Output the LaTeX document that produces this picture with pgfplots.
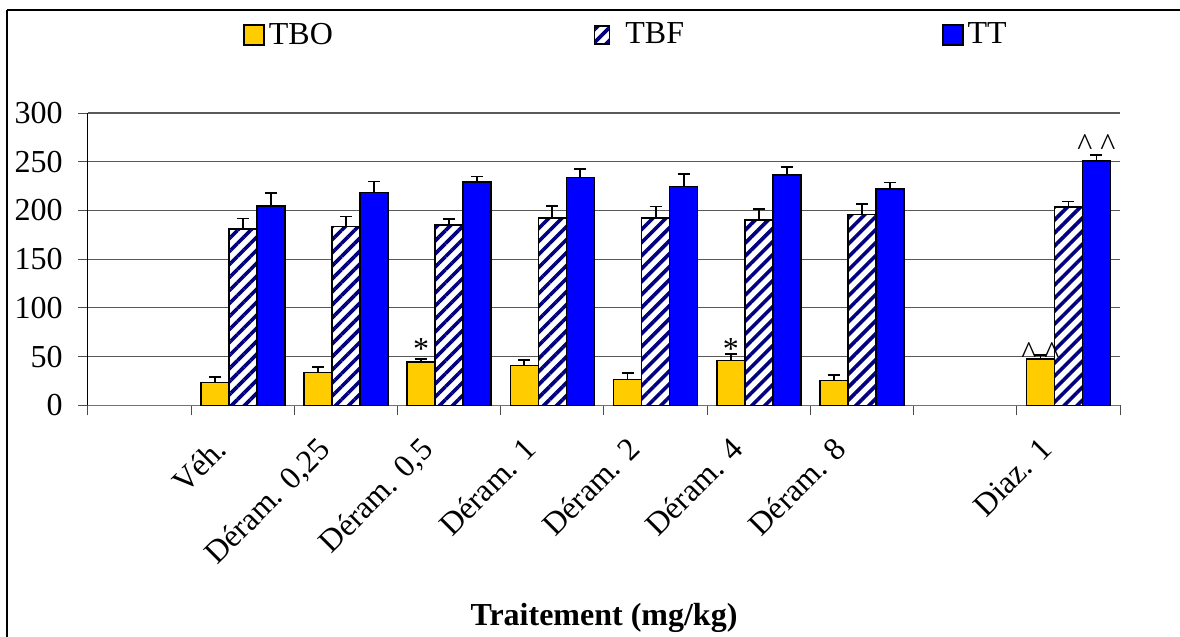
\documentclass[border=0pt]{standalone}
\usepackage{fontspec}
\setmainfont{Liberation Serif}
\usepackage{pgfplots}
\usepackage{pgfplotstable}
\pgfplotsset{compat=1.18}
\usetikzlibrary{patterns.meta}

\definecolor{tbocol}{HTML}{FFCC00}
\definecolor{stripecol}{HTML}{000080}
\definecolor{ttcol}{HTML}{0000FF}

\pgfplotsset{
  swatch/.style={legend image code/.code={\draw[##1, line width=0.75pt] (0pt,-5pt) rectangle (10pt,5pt);}},
  smallswatch/.style={legend image code/.code={\draw[##1, line width=0.75pt] (0pt,-4.5pt) rectangle (7.5pt,4.5pt);}},
}

% Means and upper error (SEM) per treatment; slots 1 and 9 are left empty
\pgfplotstableread{
x  tbo  tboerr tbf   tbferr tt    tterr
2  23.6 5.8    180.8 11.0   204.5 13.6
3  33.9 5.1    183.5 10.3   218.4 11.3
4  44.2 3.1    184.9 6.2    229.1 5.8
5  41.1 5.4    192.1 12.7   233.8 8.6
6  26.7 6.2    192.4 11.6   224.6 13.0
7  45.9 6.5    190.1 11.3   236.6 8.2
8  25.7 5.1    195.8 11.0   221.9 6.8
10 47.3 4.1    203.7 5.5    250.7 6.2
}\data

\newcommand{\chartfont}{\fontsize{16}{19}\selectfont}

\begin{document}
\begin{tikzpicture}
\useasboundingbox (-44pt,-115.85pt) rectangle (546pt,202.65pt);
% chart frame: left and top edges
\draw[line width=0.75pt] (-40.5pt,-115.85pt) -- (-40.5pt,197.65pt);
\draw[line width=0.75pt] (-40.5pt,197.65pt) -- (546pt,197.65pt);
\begin{axis}[
  at={(0,0)}, anchor=south west,
  scale only axis, width=516pt, height=146.15pt,
  ybar=0pt, bar width=14pt,
  xmin=0.5, xmax=10.5, ymin=0, ymax=300,
  axis x line=bottom, axis y line=left,
  axis line style={-},
  x axis line style={black!55, line width=0.6pt},
  y axis line style={black, line width=0.5pt},
  tick align=outside, major tick length=5pt,
  tick style={black!70, line width=0.5pt},
  xtick={0.5,1.5,...,10.5},
  xticklabels={,,,,,,,,,,},
  extra x ticks={2,3,4,5,6,7,8,10},
  extra x tick labels={Véh.,{Déram. 0,25},{Déram. 0,5},Déram. 1,Déram. 2,Déram. 4,Déram. 8,Diaz. 1},
  extra x tick style={major tick length=0pt, grid=none},
  xticklabel style={xshift=-15pt, yshift=-15pt, rotate=45, anchor=north east, inner sep=0pt},
  ytick={0,50,...,300},
  yticklabel style={inner sep=0pt, xshift=-7.5pt},
  ymajorgrids, grid style={black!65, line width=0.55pt},
  /pgf/number format/assume math mode=true,
  tick label style={font=\chartfont},
  xlabel={\textbf{Traitement (mg/kg)}},
  xlabel style={at={(axis description cs:0.5,0)}, anchor=base, yshift=-110pt, inner sep=0pt, font=\chartfont},
  legend columns=3,
  legend style={at={(0.1502,1.267)}, anchor=west, draw=none, fill=none,
    inner sep=0pt, font=\chartfont,
    /tikz/column 2/.style={column sep=128.5pt},
    /tikz/column 3/.style={column sep=5.5pt},
    /tikz/column 4/.style={column sep=127pt}},
  swatch,
  error bars/y dir=plus, error bars/y explicit,
  error bars/error bar style={black, line width=0.9pt},
  error bars/error mark options={rotate=90, mark size=3pt, black, line width=0.9pt},
]
\addplot[draw=black, line width=0.75pt, fill=tbocol]
  table[x=x, y=tbo, y error=tboerr] {\data};
\addplot[draw=black, line width=0.75pt, fill=white,
  postaction={pattern color=stripecol, pattern={Lines[angle=45, distance=4.6pt, line width=1.8pt]}},
  smallswatch]
  table[x=x, y=tbf, y error=tbferr] {\data};
\addplot[draw=black, line width=0.75pt, fill=ttcol]
  table[x=x, y=tt, y error=tterr] {\data};
\legend{TBO,TBF,TT}
% significance marks
\node[anchor=base, xshift=-14pt, font=\chartfont, inner sep=0pt] at (axis cs:4,47) {*};
\node[anchor=base, xshift=-14pt, font=\chartfont, inner sep=0pt] at (axis cs:7,47) {*};
\node[anchor=base, xshift=-14pt, font=\chartfont, inner sep=0pt] at (axis cs:10,43.4) {\textasciicircum\ \textasciicircum};
\node[anchor=base, xshift=14pt, font=\chartfont, inner sep=0pt] at (axis cs:10,256.1) {\textasciicircum\ \textasciicircum};
\end{axis}
\end{tikzpicture}
\end{document}
